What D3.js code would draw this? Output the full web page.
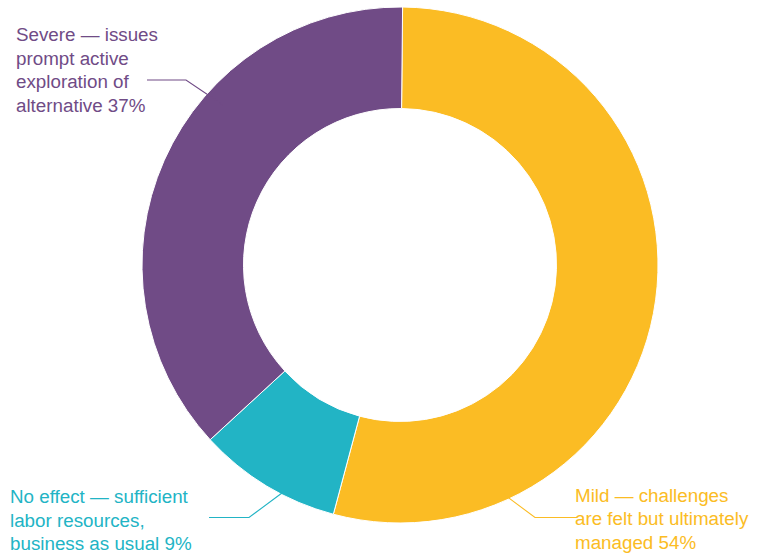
<!DOCTYPE html>
<html>
<head>
<meta charset="utf-8">
<script src="https://cdn.jsdelivr.net/npm/d3@7"></script>
<style>
  html, body { margin: 0; padding: 0; background: #fff; }
  svg { display: block; }
  text { font-family: "Liberation Sans", Arial, sans-serif; }
</style>
</head>
<body>
<svg id="chart" width="763" height="555"></svg>
<script>
// Impact of labor availability on the business
const categories = ["Mild", "No effect", "Severe"];
const shares = [54, 9, 37];
const labels = [
  ["Mild \u2014 challenges", "are felt but ultimately", "managed 54%"],
  ["No effect \u2014 sufficient", "labor resources,", "business as usual 9%"],
  ["Severe \u2014 issues", "prompt active", "exploration of", "alternative 37%"]
];
const colors = ["#FBBC24", "#22B4C5", "#704B86"];

const W = 763, H = 555;
const cx = 400, cy = 265;
const outerR = 258, innerR = 156.5;
const startAngle = 0.01;

const svg = d3.select("#chart");
const g = svg.append("g").attr("transform", `translate(${cx},${cy})`);

const pie = d3.pie()
  .sort(null)
  .value(d => d.value)
  .startAngle(startAngle)
  .endAngle(startAngle + 2 * Math.PI);

const data = categories.map((c, i) => ({ name: c, value: shares[i], color: colors[i], lines: labels[i] }));
const arcs = pie(data);

const arc = d3.arc().innerRadius(innerR).outerRadius(outerR);

g.selectAll("path.slice")
  .data(arcs)
  .join("path")
  .attr("class", "slice")
  .attr("d", arc)
  .attr("fill", d => d.data.color)
  .attr("stroke", "#fff")
  .attr("stroke-width", 1);

// Callout layout: where the leader starts inside the slice (fraction along the
// slice's angle span, radius), elbow and end points, and the text block origin.
const callouts = [
  { t: 0.80, r: 248, elbow: [535, 517.5], end: [577, 517.5], text: [575, 501.5] },
  { t: 0.38, r: 256, elbow: [249, 517.5], end: [209, 517.5], text: [10, 503] },
  { t: 0.636, r: 239, elbow: [186, 80], end: [147, 80], text: [16, 41] }
];

const lineH = 23.5;

arcs.forEach((a, i) => {
  const c = callouts[i];
  const ang = a.startAngle + c.t * (a.endAngle - a.startAngle);
  const p0 = [cx + c.r * Math.sin(ang), cy - c.r * Math.cos(ang)];
  svg.append("polyline")
    .attr("points", [p0, c.elbow, c.end].map(p => p.join(",")).join(" "))
    .attr("fill", "none")
    .attr("stroke", a.data.color)
    .attr("stroke-width", 1.1);

  const t = svg.append("text")
    .attr("x", c.text[0])
    .attr("y", c.text[1])
    .attr("fill", a.data.color)
    .attr("font-size", 18.8);
  a.data.lines.forEach((ln, k) => {
    t.append("tspan")
      .attr("x", c.text[0])
      .attr("y", c.text[1] + k * lineH)
      .text(ln);
  });
});
</script>
</body>
</html>
